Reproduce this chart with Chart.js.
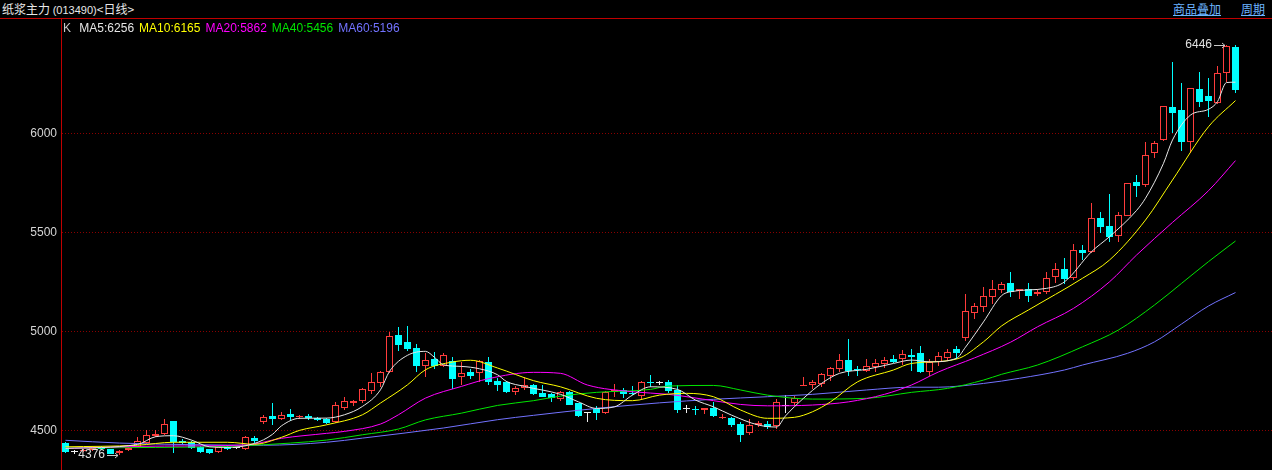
<!DOCTYPE html>
<html>
<head>
<meta charset="utf-8">
<script src="https://cdn.jsdelivr.net/npm/chart.js@4.4.1/dist/chart.umd.min.js"></script>
<style>
  body { margin: 0; background: #000; width: 1272px; height: 470px; overflow: hidden; position: relative; }
  #head { position: absolute; left: 0; top: 0; width: 1272px; height: 18px; border-bottom: 1px solid #c00000; }
  #title { position: absolute; left: 2px; top: 0; line-height: 18px; color: #e8e8e8; font: 12px "Noto Sans CJK SC", sans-serif; white-space: nowrap; }
  #title .code { font: 11px "Liberation Sans", Arial, sans-serif; }
  .link { position: absolute; top: 0; line-height: 17px; color: #6cb4ff; text-decoration: underline; font: 12px "Noto Sans CJK SC", sans-serif; }
  #wrap { position: absolute; left: 0; top: 19px; width: 1272px; height: 451px; }
  #legend { position: absolute; left: 63px; top: 20px; font: 12px "Liberation Sans", Arial, sans-serif; white-space: nowrap; line-height: 16px; }
  #legend span { margin-right: 5px; }
</style>
</head>
<body>
<div id="head">
  <div id="title">纸浆主力 <span class="code">(013490)</span>&lt;日线&gt;</div>
  <span class="link" style="left:1173px">商品叠加</span>
  <span class="link" style="left:1241px">周期</span>
</div>
<div id="wrap"><canvas id="chart" width="1272" height="451"></canvas></div>
<div id="legend"></div>
<script>
// daily candles, oldest first
const opens  = [4437,4392,4395,4400,4412,4404,4384,4400,4418,4437,4473,4480,4545,4445,4443,4418,4404,4389,4415,4410,
                4405,4463,4543,4574,4558,4582,4568,4572,4564,4557,4542,4613,4640,4646,4700,4739,4797,4983,4946,4916,
                4826,4862,4826,4848,4769,4793,4789,4845,4747,4744,4692,4716,4730,4690,4682,4657,4695,4636,4586,4606,
                4586,4692,4703,4690,4675,4742,4737,4743,4703,4606,4606,4602,4614,4564,4564,4532,4488,4527,4530,4523,
                4624,4636,4725,4729,4732,4776,4809,4855,4810,4801,4818,4833,4860,4860,4880,4890,4796,4843,4867,4911,
                4965,5091,5124,5175,5209,5242,5205,5212,5188,5197,5276,5313,5268,5410,5402,5571,5532,5483,5584,5754,
                5739,5899,5968,6131,6118,5958,6222,6188,6152,6303,6437];
const highs  = [4442,4400,4405,4418,4420,4408,4402,4415,4465,4503,4500,4556,4545,4457,4446,4420,4406,4420,4420,4416,
                4470,4470,4580,4636,4595,4610,4578,4585,4570,4562,4645,4670,4655,4713,4790,4800,4997,5022,5027,4935,
                4890,4895,4890,4868,4845,4810,4855,4870,4765,4748,4722,4770,4735,4730,4690,4700,4700,4640,4595,4625,
                4697,4735,4712,4725,4750,4780,4750,4755,4727,4626,4625,4612,4644,4584,4569,4540,4557,4547,4547,4660,
                4678,4675,4771,4755,4790,4822,4886,4961,4825,4860,4860,4870,4880,4905,4911,4925,4860,4895,4910,4925,
                5187,5143,5224,5258,5250,5298,5215,5245,5212,5298,5343,5368,5440,5435,5646,5604,5693,5604,5750,5790,
                5957,5962,6136,6362,6256,6227,6308,6278,6340,6446,6446];
const lows   = [4386,4383,4390,4396,4400,4380,4376,4396,4415,4432,4468,4476,4386,4430,4405,4388,4380,4386,4402,4404,
                4403,4435,4530,4527,4550,4545,4560,4550,4548,4530,4537,4605,4625,4640,4685,4720,4790,4900,4900,4797,
                4768,4808,4820,4710,4730,4757,4745,4730,4700,4690,4680,4706,4680,4667,4645,4650,4628,4566,4540,4553,
                4584,4670,4665,4680,4657,4720,4727,4690,4588,4590,4580,4585,4566,4560,4516,4443,4476,4516,4505,4508,
                4586,4625,4722,4710,4720,4750,4795,4775,4775,4795,4795,4815,4840,4830,4800,4790,4775,4825,4855,4860,
                4951,5060,5100,5140,5195,5175,5165,5150,5180,5190,5243,5240,5260,5360,5395,5495,5450,5450,5580,5680,
                5730,5875,5960,6003,5912,5899,6131,6084,6150,6260,6202];
const closes = [4389,4392,4400,4410,4406,4380,4398,4412,4446,4475,4480,4530,4443,4434,4409,4392,4384,4418,4405,4410,
                4468,4448,4569,4558,4580,4569,4574,4562,4550,4537,4626,4646,4646,4708,4744,4795,4975,4932,4912,4826,
                4854,4826,4879,4760,4790,4777,4848,4742,4730,4693,4714,4730,4682,4670,4662,4695,4628,4574,4586,4586,
                4695,4703,4682,4682,4742,4740,4737,4700,4602,4606,4603,4611,4574,4569,4527,4476,4527,4535,4515,4641,
                4624,4665,4727,4742,4784,4813,4854,4801,4805,4825,4838,4853,4846,4884,4870,4796,4846,4875,4894,4892,
                5103,5129,5178,5212,5239,5200,5212,5180,5200,5268,5313,5263,5410,5394,5571,5528,5475,5587,5747,5735,
                5889,5950,6136,6101,5958,6227,6160,6165,6303,6441,6219];

// moving averages: [candle index, value]
const ma5Pts  = [[0,4409],[8,4429],[10,4468],[12,4473],[14,4451],[16,4417],[18,4414],[21,4434],[23,4480],[24,4523],
                 [26,4561],[29,4562],[31,4579],[33,4621],[35,4705],[36,4798],[38,4879],[40,4899],[41,4869],[42,4831],
                 [44,4823],[46,4811],[48,4781],[49,4747],[51,4722],[55,4682],[57,4644],[59,4611],[61,4619],[63,4678],
                 [65,4720],[68,4707],[70,4653],[72,4619],[74,4577],[77,4527],[79,4517],[80,4573],[82,4662],[84,4737],
                 [86,4788],[89,4808],[92,4838],[94,4855],[96,4846],[99,4864],[100,4920],[102,5048],[104,5180],[105,5200],
                 [109,5217],[111,5250],[114,5402],[116,5478],[119,5610],[120,5672],[122,5848],[123,5966],[125,6092],
                 [127,6121],[128,6160],[129,6256],[130,6258]];
const ma10Pts = [[0,4417],[8,4425],[12,4440],[18,4440],[21,4430],[24,4465],[26,4500],[29,4528],[33,4579],[35,4638],
                 [38,4730],[40,4806],[43,4845],[45,4854],[48,4815],[52,4751],[55,4720],[59,4662],[63,4650],[66,4678],
                 [69,4687],[72,4670],[75,4603],[78,4561],[81,4566],[83,4594],[85,4644],[88,4745],[92,4805],[94,4838],
                 [99,4860],[102,4947],[104,5027],[107,5108],[113,5268],[116,5360],[120,5562],[123,5764],[127,6033],[130,6165]];
const ma20Pts = [[0,4409],[11,4421],[20,4426],[24,4460],[29,4485],[31,4495],[35,4532],[37,4579],[40,4663],[44,4722],
                 [47,4761],[52,4793],[55,4788],[58,4729],[63,4695],[67,4682],[72,4650],[75,4631],[78,4624],[83,4628],
                 [87,4644],[91,4682],[94,4729],[97,4795],[101,4866],[105,4945],[108,5023],[112,5116],[116,5250],
                 [119,5385],[123,5550],[127,5710],[130,5862]];
const ma40Pts = [[0,4411],[10,4414],[19,4421],[25,4436],[29,4451],[33,4478],[37,4507],[40,4553],[44,4587],[48,4626],
                 [52,4650],[55,4673],[59,4692],[65,4707],[67,4724],[72,4727],[75,4704],[78,4678],[83,4658],[89,4662],
                 [94,4692],[98,4712],[102,4754],[104,4783],[108,4830],[113,4922],[117,5007],[121,5133],[124,5242],
                 [127,5352],[130,5456]];
const ma60Pts = [[0,4450],[6,4436],[14,4428],[22,4425],[29,4440],[33,4461],[42,4512],[48,4554],[52,4576],[59,4611],
                 [66,4639],[72,4657],[78,4670],[83,4682],[89,4704],[94,4718],[97,4718],[102,4737],[106,4763],[111,4805],
                 [113,4830],[118,4889],[121,4947],[124,5037],[127,5128],[130,5196]];

const maNames  = ['MA5', 'MA10', 'MA20', 'MA40', 'MA60'];
const maLast   = [6256, 6165, 5862, 5456, 5196];
const maColors = ['#e6e6e6', '#ffff00', '#ff00ff', '#00e600', '#7272ff'];
const yTicks   = [4500, 5000, 5500, 6000];

const RED = '#ff3c3c', CYAN = '#00ffff', WHITE = '#f0f0f0';

// legend row
const legend = document.getElementById('legend');
legend.innerHTML = '<span style="color:#c8c8c8">K</span> ' +
  maNames.map((n, i) => `<span style="color:${maColors[i]}">${n}:${maLast[i]}</span>`).join('');

const idx = closes.map((_, i) => i);
const colorOf = i => closes[i] > opens[i] ? RED : (closes[i] < opens[i] ? CYAN : WHITE);
const candleColors = idx.map(colorOf);
const bodyFills = idx.map(i => closes[i] > opens[i] ? '#000' : colorOf(i));

const hiIdx = highs.indexOf(Math.max(...highs));
const loIdx = lows.indexOf(Math.min(...lows));

function arrowLabel(ctx, text, tipX, y) {
  ctx.fillText(text, tipX - 14, y);
  ctx.beginPath();
  ctx.moveTo(tipX - 12, y + 0.5);
  ctx.lineTo(tipX - 1, y + 0.5);
  ctx.moveTo(tipX - 4, y - 2);
  ctx.lineTo(tipX - 1, y + 0.5);
  ctx.lineTo(tipX - 4, y + 3);
  ctx.stroke();
}

const markers = {
  id: 'markers',
  afterDatasetsDraw(chart) {
    const { ctx, scales: { x, y } } = chart;
    ctx.save();
    ctx.font = '12px "Liberation Sans", Arial, sans-serif';
    ctx.fillStyle = '#e0e0e0';
    ctx.strokeStyle = '#c8c8c8';
    ctx.lineWidth = 1;
    ctx.textAlign = 'right';
    ctx.textBaseline = 'middle';
    arrowLabel(ctx, String(highs[hiIdx]), Math.round(x.getPixelForValue(hiIdx)), Math.round(y.getPixelForValue(highs[hiIdx])));
    arrowLabel(ctx, String(lows[loIdx]), Math.round(x.getPixelForValue(loIdx)), Math.round(y.getPixelForValue(lows[loIdx])));
    ctx.restore();
  }
};

// snap candle rectangles to whole pixels so the 1px outlines stay crisp
const snapBars = {
  id: 'snapBars',
  beforeDatasetsDraw(chart) {
    chart.data.datasets.forEach((ds, k) => {
      if (ds.type === 'line') return;
      for (const el of chart.getDatasetMeta(k).data) {
        const top = Math.round(Math.min(el.y, el.base));
        let bottom = Math.round(Math.max(el.y, el.base));
        if (bottom - top < 1) bottom = top + 1;
        el.y = top;
        el.base = bottom;
      }
    });
  }
};

const maSets = [ma5Pts, ma10Pts, ma20Pts, ma40Pts, ma60Pts].map((pts, k) => ({
  type: 'line',
  label: maNames[k],
  data: pts.map(([x, v]) => ({ x, y: v })),
  borderColor: maColors[k],
  borderWidth: 1,
  pointRadius: 0,
  cubicInterpolationMode: 'monotone',
  order: 0
}));

new Chart(document.getElementById('chart'), {
  type: 'bar',
  data: {
    datasets: [
      {
        label: 'wick',
        data: idx.map(i => ({ x: i, y: [lows[i], highs[i]] })),
        backgroundColor: candleColors,
        borderWidth: 0,
        barThickness: 1,
        minBarLength: 1,
        inflateAmount: 0,
        grouped: false,
        order: 3
      },
      {
        label: 'body',
        data: idx.map(i => ({ x: i, y: [Math.min(opens[i], closes[i]), Math.max(opens[i], closes[i])] })),
        backgroundColor: bodyFills,
        borderColor: candleColors,
        borderWidth: 1,
        borderSkipped: false,
        barThickness: 7,
        minBarLength: 1,
        inflateAmount: 0,
        grouped: false,
        order: 2
      },
      ...maSets
    ]
  },
  options: {
    responsive: false,
    animation: false,
    devicePixelRatio: 1,
    layout: { padding: 0, autoPadding: false },
    plugins: { legend: { display: false }, tooltip: { enabled: false } },
    scales: {
      // 9 px per candle across a 1211 px wide plot
      x: { type: 'linear', min: -0.5, max: 134.056, offset: false, display: false },
      y: {
        position: 'left',
        min: 4300,
        max: 6577,
        afterFit(s) { s.width = 61; s.paddingTop = 0; s.paddingBottom = 0; },
        afterBuildTicks(s) { s.ticks = yTicks.map(v => ({ value: v })); },
        grid: { color: '#8a0000', drawTicks: false, lineWidth: 1 },
        border: { color: '#c00000', width: 1, dash: [1, 2] },
        ticks: {
          color: '#d4d4d4',
          padding: 4,
          font: { family: '"Liberation Sans", Arial, sans-serif', size: 12 },
          callback: v => String(v)
        }
      }
    }
  },
  plugins: [snapBars, markers]
});
</script>
</body>
</html>
